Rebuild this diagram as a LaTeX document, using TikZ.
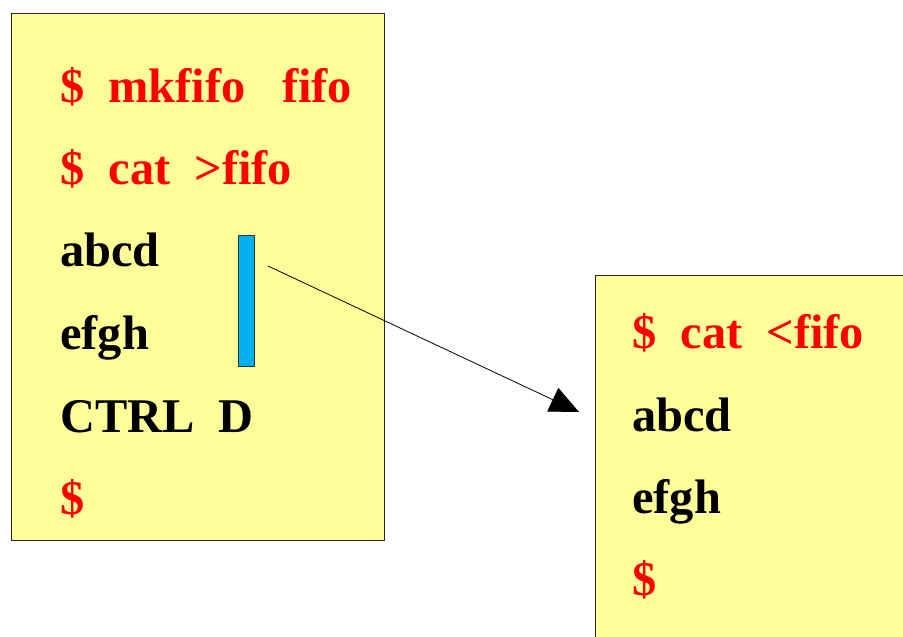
\documentclass[tikz,border=0pt]{standalone}
\usepackage{fontspec}
\setmainfont{Liberation Serif}
\usetikzlibrary{arrows.meta}
\definecolor{boxyellow}{RGB}{255,255,153}
\definecolor{barblue}{RGB}{0,176,240}
\definecolor{termred}{RGB}{255,0,0}
\begin{document}
\begin{tikzpicture}[x=1pt,y=-1pt,
  termbox/.style={draw=black!85, line width=1.1pt, fill=boxyellow, anchor=north west, inner sep=0pt},
  cmd/.style={anchor=base west, inner sep=0pt, text=termred, font=\fontsize{48.4}{48}\selectfont\bfseries},
  outtext/.style={cmd, text=black},
  bar/.style={draw=black!80, line width=0.8pt, fill=barblue, anchor=north west, inner sep=0pt},
  flow/.style={draw=black, line width=0.8pt, -{Triangle[length=29pt,width=26pt]}}]
\useasboundingbox (0,0) rectangle (903,637);
\clip (0,0) rectangle (903,637);
% boxes
\node[termbox, minimum width=373pt, minimum height=527pt] (writer) at (11.2,13) {};
\node[termbox, minimum width=340pt, minimum height=400pt] (reader) at (595,275) {};
\node[bar, minimum width=16.5pt, minimum height=131pt] (pipe) at (237.5,235) {};
% left terminal
\node[cmd] (l1) at (60,102) {\$~~mkfifo~~~fifo};
\node[cmd] (l2) at (60,184) {\$~~cat~~>fifo};
\node[outtext] (l3) at (60,266.5) {abcd};
\node[outtext] (l4) at (60,349) {efgh};
\node[outtext] (l5) at (60,432) {CTRL~~D};
\node[cmd] (l6) at (60,514) {\$};
% right terminal
\node[cmd] (r1) at (632,348.5) {\$~~cat~~<fifo};
\node[outtext] (r2) at (632,431.5) {abcd};
\node[outtext] (r3) at (632,513) {efgh};
\node[cmd] (r4) at (632,595) {\$};
% arrow
\coordinate (src) at (268,266);
\coordinate (dst) at (579,412);
\draw[flow] (src) -- (dst);
\end{tikzpicture}
\end{document}
